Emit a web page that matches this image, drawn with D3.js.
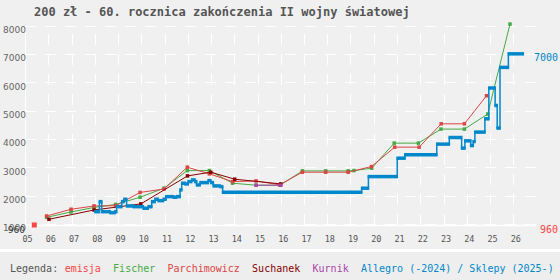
<!DOCTYPE html>
<html>
<head>
<meta charset="utf-8">
<script src="https://cdn.jsdelivr.net/npm/d3@7"></script>
<style>
body { margin: 0; background: #f0f0f0; }
svg { display: block; }
</style>
</head>
<body>
<div class="display"></div>
<script>
// dates as decimal years, values in zł
const years = d3.range(2005, 2027);
const yTicks = [1000, 2000, 3000, 4000, 5000, 6000, 7000, 8000];

const emisja = [[2005.4, 960]];
const fischer = [[2005.93, 1230], [2006.98, 1420], [2007.97, 1580], [2008.9, 1685], [2009.95, 1940],
    [2010.98, 2258], [2011.98, 2880], [2012.93, 2880], [2013.93, 2435], [2014.94, 2364], [2015.97, 2364],
    [2016.93, 2869], [2017.93, 2869], [2018.9, 2869], [2019.15, 2880], [2019.91, 2965], [2020.88, 3849],
    [2021.92, 3849], [2022.89, 4344], [2023.9, 4344], [2024.9, 4874], [2025.86, 8050]];
const parchimowicz = [[2005.93, 1278], [2006.98, 1515], [2007.97, 1632], [2008.9, 1642], [2009.95, 2109],
    [2010.98, 2230], [2011.98, 3000], [2012.93, 2765], [2013.93, 2491], [2014.94, 2516], [2015.95, 2380],
    [2016.93, 2823], [2017.93, 2823], [2018.9, 2823], [2019.9, 3022], [2020.9, 3707], [2021.95, 3707],
    [2022.9, 4531], [2023.9, 4531], [2024.85, 5521]];
const suchanek = [[2006.03, 1162], [2007.97, 1490], [2009.98, 1703], [2011.99, 2693], [2012.99, 2823],
    [2014.02, 2576], [2016.0, 2410]];
const kurnik = [[2014.94, 2364], [2016.0, 2364]];
const allegro = [[2008.01, 1430], [2008.2, 1784], [2008.3, 1430], [2008.66, 1395], [2008.87, 1430],
    [2008.94, 1607], [2009.16, 1784], [2009.26, 1869], [2009.37, 1632], [2009.66, 1607], [2010.09, 1550],
    [2010.3, 1607], [2010.45, 1784], [2010.59, 1869], [2010.73, 1819], [2010.95, 1869], [2011.06, 1961],
    [2011.38, 1940], [2011.52, 1961], [2011.67, 2198], [2011.74, 2434], [2011.88, 2410], [2012.02, 2491],
    [2012.17, 2551], [2012.31, 2491], [2012.38, 2374], [2012.53, 2455], [2012.88, 2526], [2012.99, 2455],
    [2013.1, 2339], [2013.39, 2314], [2013.5, 2116], [2019.48, 2258], [2019.77, 2668], [2021.01, 3318],
    [2021.34, 3435], [2022.71, 3814], [2023.25, 4047], [2023.78, 3672], [2023.92, 3930], [2024.17, 3764],
    [2024.28, 3905], [2024.35, 4238], [2024.78, 4708], [2024.95, 5794], [2025.22, 5178], [2025.31, 4379],
    [2025.43, 6522], [2025.79, 7000], [2026.43, 7000]];

const width = 560;
const height = 280;
const plotLeft = 25;
const plotRight = 536.5;
const plotTop = 25.5;
const plotBottom = 225;

const svg = d3.select('.display')
    .append('svg')
    .attr('width', width)
    .attr('height', height);

const xScale = d3.scaleLinear().domain([2005, 2027]).range([plotLeft, plotRight]);
const yScale = d3.scaleLinear().domain([960, 8000]).range([plotBottom, plotTop]);
const crisp = v => Math.round(v) + 0.5;

// grid
svg.append('g').selectAll('line')
    .data(yTicks)
    .enter()
    .append('line')
    .attr('x1', plotLeft).attr('x2', plotRight)
    .attr('y1', d => crisp(yScale(d))).attr('y2', d => crisp(yScale(d)))
    .attr('stroke', 'white')
    .attr('stroke-dasharray', '11,9');

svg.append('g').selectAll('line')
    .data(years.slice(1))
    .enter()
    .append('line')
    .attr('x1', d => crisp(xScale(d))).attr('x2', d => crisp(xScale(d)))
    .attr('y1', plotBottom).attr('y2', plotTop)
    .attr('stroke', 'white')
    .attr('stroke-dasharray', '11,9');

svg.append('line')
    .attr('x1', crisp(plotLeft)).attr('x2', crisp(plotLeft))
    .attr('y1', plotTop).attr('y2', plotBottom)
    .attr('stroke', 'white');
svg.append('line')
    .attr('x1', plotLeft).attr('x2', plotRight)
    .attr('y1', crisp(plotBottom)).attr('y2', crisp(plotBottom))
    .attr('stroke', 'white')
    .attr('stroke-width', 1.5);

// axes
const yAxis = d3.axisLeft(yScale).tickValues(yTicks).tickFormat(d3.format('d')).tickSize(0).tickPadding(-1);
const gy = svg.append('g').attr('transform', `translate(${plotLeft}, 0)`).call(yAxis);
gy.select('.domain').remove();
gy.selectAll('text')
    .attr('dy', 7)
    .attr('fill', '#666')
    .style('font-family', 'DejaVu Sans')
    .style('font-size', '9px');

const xAxis = d3.axisBottom(xScale).tickValues(years).tickFormat(d => String(d).slice(2)).tickSize(0);
const gx = svg.append('g').attr('transform', `translate(2, ${plotBottom})`).call(xAxis);
gx.select('.domain').remove();
gx.selectAll('text')
    .attr('y', 17)
    .attr('dy', 0)
    .attr('fill', '#555')
    .style('font-family', 'DejaVu Sans Mono')
    .style('font-size', '8.5px');

svg.append('text')
    .attr('x', plotLeft).attr('y', yScale(960) + 7.5)
    .attr('text-anchor', 'end')
    .attr('fill', '#333')
    .style('font-family', 'DejaVu Sans')
    .style('font-size', '9px')
    .text('960');

// series
const line = d3.line().x(d => xScale(d[0])).y(d => yScale(d[1]));

function drawSeries(data, color, size) {
    svg.append('path')
        .datum(data)
        .attr('d', line)
        .attr('fill', 'none')
        .attr('stroke', color)
        .attr('stroke-width', 1);
    svg.append('g').selectAll('rect')
        .data(data)
        .enter()
        .append('rect')
        .attr('x', d => xScale(d[0]) - size / 2)
        .attr('y', d => yScale(d[1]) - size / 2)
        .attr('width', size)
        .attr('height', size)
        .attr('fill', color);
}

drawSeries(emisja, '#ff4444', 5);
drawSeries(fischer, '#44aa44', 3.5);
drawSeries(parchimowicz, '#dd4444', 3.5);
drawSeries(suchanek, '#880000', 3.5);
drawSeries(kurnik, '#aa44aa', 3.5);

// allegro: thin step line + thick horizontal runs
const stepLine = d3.line().x(d => xScale(d[0])).y(d => yScale(d[1])).curve(d3.curveStepAfter);
svg.append('path')
    .datum(allegro)
    .attr('d', stepLine)
    .attr('fill', 'none')
    .attr('stroke', '#0088cc')
    .attr('stroke-width', 1.5);

svg.append('g').selectAll('line')
    .data(allegro.slice(0, -1))
    .enter()
    .append('line')
    .attr('x1', d => xScale(d[0]) - 0.8)
    .attr('x2', (d, i) => xScale(allegro[i + 1][0]) + 0.8)
    .attr('y1', d => yScale(d[1]))
    .attr('y2', d => yScale(d[1]))
    .attr('stroke', '#0088cc')
    .attr('stroke-width', 3.5);

// end labels
svg.append('text')
    .attr('x', 558).attr('y', yScale(7000) + 7.5)
    .attr('text-anchor', 'end')
    .attr('fill', '#0088cc')
    .style('font-family', 'DejaVu Sans Mono')
    .style('font-size', '10px')
    .text('7000');
svg.append('text')
    .attr('x', 558).attr('y', yScale(960) + 7.5)
    .attr('text-anchor', 'end')
    .attr('fill', '#ff4444')
    .style('font-family', 'DejaVu Sans Mono')
    .style('font-size', '10px')
    .text('960');

// title
svg.append('text')
    .attr('x', 34).attr('y', 16)
    .attr('fill', '#555')
    .style('font-family', 'DejaVu Sans Mono')
    .style('font-weight', 'bold')
    .style('font-size', '12px')
    .text('200 zł - 60. rocznica zakończenia II wojny światowej');

// legend
svg.append('rect')
    .attr('x', 0).attr('y', 249)
    .attr('width', width).attr('height', 3)
    .attr('fill', 'white');
svg.append('rect')
    .attr('x', 0).attr('y', 252)
    .attr('width', width).attr('height', 28)
    .attr('fill', '#eeeeee');

const legendItems = [
    ['Legenda:', '#555'],
    ['emisja', '#ff4444'],
    ['Fischer', '#44aa44'],
    ['Parchimowicz', '#dd4444'],
    ['Suchanek', '#880000'],
    ['Kurnik', '#aa44aa'],
    ['Allegro (-2024) / Sklepy (2025-)', '#0088cc']
];
let lx = 10;
legendItems.forEach(([label, color], i) => {
    const t = svg.append('text')
        .attr('x', lx).attr('y', 271.5)
        .attr('fill', color)
        .style('font-family', 'DejaVu Sans Mono')
        .style('font-size', '10px')
        .text(label);
    lx += t.node().getComputedTextLength() + (i === 0 ? 6.5 : 12.3);
});
</script>
</body>
</html>
